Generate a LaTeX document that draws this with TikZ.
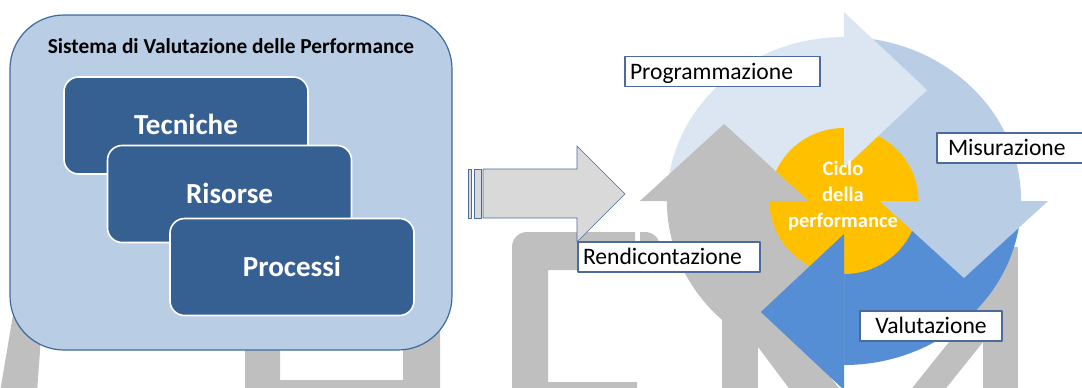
\documentclass[tikz,border=0pt]{standalone}
\usepackage{fontspec}
\setmainfont{Carlito}
\usepackage{tikz}
\usetikzlibrary{positioning}

\definecolor{azzurrobox}{HTML}{B9CDE5}
\definecolor{bordobox}{HTML}{3F6A9E}
\definecolor{bluscuro}{HTML}{376092}
\definecolor{cprog}{HTML}{DCE6F2}
\definecolor{cmis}{HTML}{B9CDE5}
\definecolor{cval}{HTML}{558ED5}
\definecolor{crend}{HTML}{BFBFBF}
\definecolor{cciclo}{HTML}{FFC000}
\definecolor{grigiofreccia}{HTML}{D9D9D9}
\definecolor{bordolab}{HTML}{4A6B9B}

\begin{document}
\begin{tikzpicture}[x=0.75pt, y=0.75pt, line join=round,
    filigrana/.style={fill=crend},
    sistema/.style={draw=bordobox, line width=0.9pt, fill=azzurrobox,
        rounded corners=40.5pt, minimum width=331.5pt, minimum height=251.25pt},
    riquadro/.style={draw=white, line width=1.2pt, fill=bluscuro, text=white,
        rounded corners=11pt, minimum width=183pt, minimum height=72.75pt,
        font=\fontsize{21.8}{26}\selectfont\bfseries, text height=14pt, text depth=0pt},
    etichetta/.style={draw=bordolab, line width=0.9pt, fill=white,
        minimum height=22.5pt, inner xsep=3.75pt, inner ysep=0pt,
        font=\fontsize{17.7}{21}\selectfont, text height=11.4pt, text depth=0pt, align=left}]

\useasboundingbox (0,0) rectangle (1082,387);

% === FILIGRANA (lettere grigie sullo sfondo) ===
\fill[filigrana] (16,90) -- (44,90) -- (37,-5) -- (0,-5) -- cycle;
\fill[filigrana] (245,70) -- (245,-5) -- (440,-5) -- (440,70) -- (403,70)
    -- (403,7) -- (280,7) -- (280,70) -- cycle;
\fill[filigrana] (512,-5) -- (512,140) arc[start angle=180, end angle=90, radius=15]
    -- (635,155) -- (635,117) -- (548,117) -- (548,5) -- (637,5) -- (637,-5) -- cycle;
\fill[filigrana] (640,117) -- (640,155) -- (645,155)
    arc[start angle=90, end angle=0, radius=15] -- (660,117) -- cycle;
% la M
\fill[filigrana] (722,-5) rectangle (758,200);
\fill[filigrana] (758,40) -- (791.75,-5) -- (841.75,-5) -- (758,107) -- cycle;
\fill[filigrana] (909,-5) -- (943,-5) -- (983,45) -- (983,87.5) -- cycle;
\fill[filigrana] (983,-5) rectangle (1018,140);

% === SISTEMA DI VALUTAZIONE (sinistra) ===
\node[sistema] (sis) at (231,204.5) {};
\node[font=\fontsize{16}{19}\selectfont\bfseries, text height=10.3pt, text depth=0pt]
    (tit) at (231,340.5) {Sistema di Valutazione delle Performance};
\node[riquadro] (tec) at (186,261.5) {Tecniche};
\node[riquadro] (ris) at (229.5,193) {Risorse};
\node[riquadro] (pro) at (292,120) {Processi};

% Freccia a strisce verso il ciclo
\filldraw[fill=grigiofreccia, draw=bordolab, line width=0.5pt]
    (483,218) -- (577,218) -- (577,241) -- (625,193) -- (577,145)
    -- (577,169) -- (483,169) -- cycle;
\foreach \xa/\xb in {468/471, 474/481}{
    \filldraw[fill=grigiofreccia, draw=bordolab, line width=0.5pt] (\xa,169) rectangle (\xb,218);
}

% === CICLO (destra) ===
\begin{scope}[shift={(844,186)}, xscale=1.08]
    % spicchi
    \foreach \a/\col in {180/cprog, 90/cmis, 0/cval, -90/crend}{
        \fill[\col] (0,0) -- (\a:164) arc[start angle=\a, end angle=\a-90, radius=164] -- cycle;
    }
    % cerchio centrale
    \fill[cciclo] (0,0) ellipse[x radius=69, y radius=73];
    % punte delle frecce
    \foreach \e/\col in {90/cprog, 0/cmis, -90/cval, 180/crend}{
        \fill[\col, rotate=\e] (33,0) -- (189,0) -- (111,-77) -- cycle;
    }
\end{scope}
\node[text=white, align=center, font=\fontsize{15.4}{19.5}\selectfont\bfseries]
    (ciclo) at (843,191) {Ciclo\\della\\performance};

% Etichette delle fasi
\node[etichetta, text width=138.75pt] (prog) at (722.5,315.5) {Programmazione};
\node[etichetta, text width=93.75pt, inner xsep=8.25pt] (mis) at (1010.5,239) {Misurazione};
\node[etichetta, text width=129pt] (rend) at (669,130) {Rendicontazione};
\node[etichetta, text width=99pt, align=center] (val) at (931,61) {Valutazione};

\end{tikzpicture}
\end{document}
